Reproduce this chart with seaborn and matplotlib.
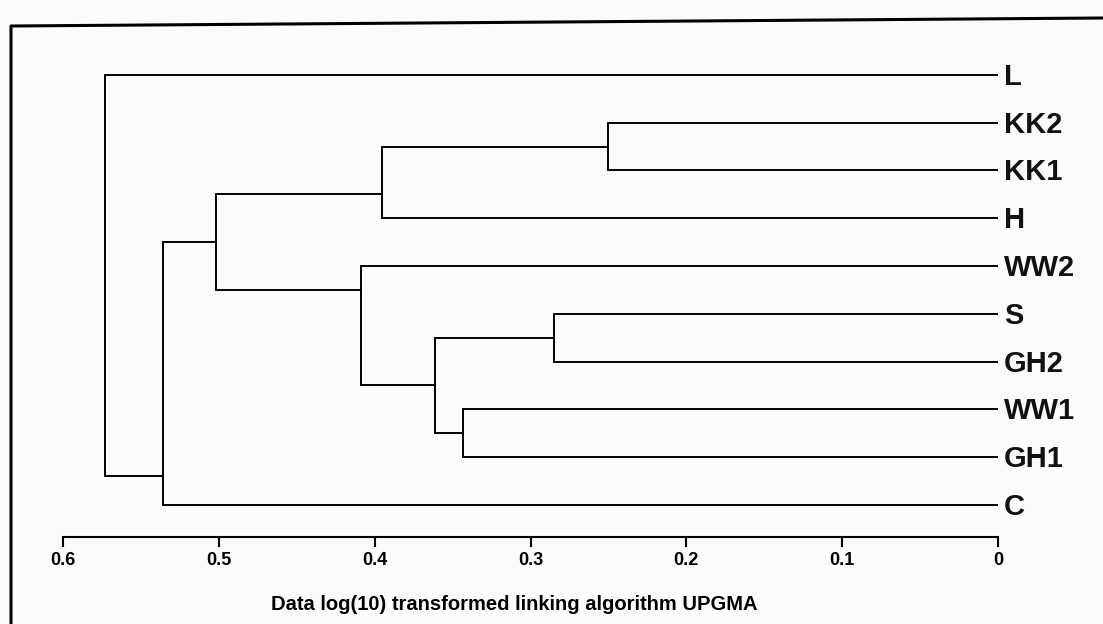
import pandas as pd
import matplotlib.pyplot as plt
from matplotlib.lines import Line2D
import seaborn as sns

# Blaetter (von oben nach unten) und Verknuepfungen des UPGMA-Baums
leaves = ['L', 'KK2', 'KK1', 'H', 'WW2', 'S', 'GH2', 'WW1', 'GH1', 'C']
node_names = ['n1', 'n2', 'n3', 'n4', 'n5', 'n6', 'n7', 'n8', 'n9']
node_left = ['KK2', 'S', 'WW1', 'n2', 'WW2', 'n1', 'n6', 'n7', 'L']
node_right = ['KK1', 'GH2', 'GH1', 'n3', 'n4', 'H', 'n5', 'C', 'n8']
node_height = [0.250, 0.285, 0.343, 0.361, 0.409, 0.395, 0.502, 0.536, 0.573]

tick_values = [0.6, 0.5, 0.4, 0.3, 0.2, 0.1, 0]
tick_labels = ['0.6', '0.5', '0.4', '0.3', '0.2', '0.1', '0']
x_title = 'Data log(10) transformed linking algorithm UPGMA'

# Linienzuege des Dendrogramms aufbauen
pos = {name: (0.0, float(i)) for i, name in enumerate(leaves)}
size = {name: 1 for name in leaves}
rows = []
seg = 0
for name, a, b, h in zip(node_names, node_left, node_right, node_height):
    (ha, ya), (hb, yb) = pos[a], pos[b]
    na, nb = size[a], size[b]
    for hc, yc in [(ha, ya), (hb, yb)]:
        rows += [(seg, hc, yc), (seg, h, yc)]
        seg += 1
    rows += [(seg, h, ya), (seg, h, yb)]
    seg += 1
    # Anschlusspunkt: Mitte bei zwei Clustern, sonst zum Einzelblatt hin verschoben
    if na > 1 and nb > 1:
        y = (ya + yb) / 2
    else:
        y = (ya * nb + yb * na) / (na + nb)
    pos[name] = (h, y)
    size[name] = na + nb

df = pd.DataFrame(rows, columns=['seg', 'x', 'y'])

sns.set_theme(style='white')
plt.rcParams['font.family'] = ['Liberation Sans', 'DejaVu Sans']

W, H = 1103, 624
fig = plt.figure(figsize=(W / 100, H / 100), dpi=100, facecolor='#fbfbfb')
ax = fig.add_axes([63 / W, 1 - 537 / H, 935 / W, 477 / H])
ax.set_facecolor('#fbfbfb')

sns.lineplot(data=df, x='x', y='y', units='seg', estimator=None, sort=False,
             color='black', linewidth=1.4, ax=ax, legend=False)

ax.set_xlim(0.6, 0)
ax.set_ylim(9.67, -0.31)

for i, name in enumerate(leaves):
    ax.text(-0.004, i + 0.04, name, va='center', ha='left', fontsize=21,
            fontweight='bold', color='#111111', clip_on=False)

for s in ['top', 'left', 'right']:
    ax.spines[s].set_visible(False)
ax.spines['bottom'].set_color('black')
ax.spines['bottom'].set_linewidth(1.5)
ax.set_yticks([])
ax.set_ylabel('')
ax.set_xticks(tick_values)
ax.set_xticklabels(tick_labels, fontsize=13, fontweight='bold')
ax.tick_params(axis='x', direction='out', length=7, width=1.5, pad=4,
               colors='black', bottom=True)
ax.set_xlabel(x_title, fontsize=14.5, fontweight='bold', color='black')
ax.xaxis.set_label_coords(0.483, -0.122)

# Rahmen des gescannten Bildes (links und oben)
fig.add_artist(Line2D([11 / W, 11 / W, 1], [0, 1 - 26 / H, 1 - 18 / H],
                      transform=fig.transFigure, color='black', linewidth=2.2))

fig.savefig('out.png', dpi=100, facecolor=fig.get_facecolor())
